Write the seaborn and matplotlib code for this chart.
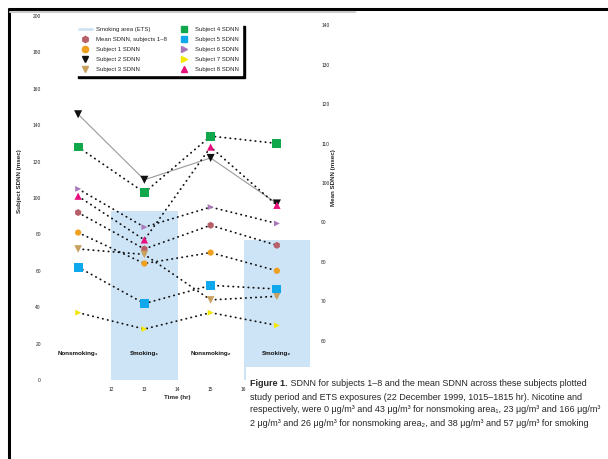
import matplotlib
matplotlib.use("Agg")
import matplotlib.pyplot as plt
from matplotlib.lines import Line2D
from matplotlib.patches import Rectangle
import pandas as pd
import seaborn as sns

# Study periods: midpoint hour, labels, time axis ticks
period_time = [11, 13, 15, 17]
period_labels = ["Nonsmoking\u2081", "Smoking\u2081", "Nonsmoking\u2082", "Smoking\u2082"]
time_ticks = [12, 13, 14, 15, 16]
left_ticks = [0, 20, 40, 60, 80, 100, 120, 140, 160, 180, 200]
right_ticks = [60, 70, 80, 90, 100, 110, 120, 130, 140]

# SDNN (msec) in each period
mean_sdnn = [92, 72, 85, 74]
subject_1 = [81, 64, 70, 60]
subject_2 = [146, 110, 122, 97]
subject_3 = [72, 69, 44, 46]
subject_4 = [128, 103, 134, 130]
subject_5 = [62, 42, 52, 50]
subject_6 = [105, 84, 95, 86]
subject_7 = [37, 28, 37, 30]
subject_8 = [101, 77, 128, 96]

# Smoking-area periods (right axis)
smoking_time = [13, 17]
smoking_level = [93, 85.5]

series_names = ["Mean SDNN, subjects 1\u20138", "Subject 1 SDNN", "Subject 2 SDNN",
                "Subject 3 SDNN", "Subject 4 SDNN", "Subject 5 SDNN", "Subject 6 SDNN",
                "Subject 7 SDNN", "Subject 8 SDNN"]
series_values = [mean_sdnn, subject_1, subject_2, subject_3, subject_4,
                 subject_5, subject_6, subject_7, subject_8]

palette = dict(zip(series_names, ["#b8606a", "#f0a020", "#111111", "#c8a060", "#10a84a",
                                  "#10a8ec", "#a878b8", "#f4e800", "#e8107c"]))
markers = dict(zip(series_names, ["h", "o", "v", "v", "s", "s", ">", ">", "^"]))
sizes = dict(zip(series_names, [26, 20, 34, 30, 40, 40, 18, 18, 28]))

# Connecting lines: dotted black, subject 2 as a thin solid grey line
line_colors = {n: "#111111" for n in series_names}
line_colors["Subject 2 SDNN"] = "#9a9a9a"
line_widths = {n: 1.3 for n in series_names}
line_widths["Subject 2 SDNN"] = 0.8
dashes = {n: (0.2, 2.6) for n in series_names}
dashes["Subject 2 SDNN"] = ""

rows = []
for name, vals in zip(series_names, series_values):
    for t, v in zip(period_time, vals):
        rows.append({"series": name, "time": t, "sdnn": v})
df = pd.DataFrame(rows)

sns.set_style("white")
plt.rcParams["font.family"] = ["Liberation Sans Narrow", "Liberation Sans", "DejaVu Sans"]

fig = plt.figure(figsize=(6.08, 4.59), dpi=100)
W, H = 608.0, 459.0
ax = fig.add_axes([45 / W, 1 - 380 / H, 265 / W, 364 / H])
ax2 = ax.twinx()

# Background and smoking-area bars live on the twin axis, lines on top
ax.set_zorder(ax2.get_zorder() + 1)
ax.patch.set_visible(False)
ax2.set_facecolor("#efefef")
ax2.bar(smoking_time, smoking_level, width=2.0, color="#cde3f6", linewidth=0)
ax2.set_ylim(50, 50 + 364 / 3.94)
ax2.set_yticks(right_ticks)

sns.lineplot(data=df, x="time", y="sdnn", hue="series", style="series", size="series",
             palette=line_colors, sizes=line_widths, dashes=dashes, markers=False,
             dash_capstyle="round", legend=False, estimator=None, sort=False, ax=ax)
sns.scatterplot(data=df, x="time", y="sdnn", hue="series", style="series", size="series",
                palette=palette, markers=markers, sizes=sizes, linewidth=0,
                legend=False, zorder=4, ax=ax)

ax.set_xlim(10, 18)
ax.set_ylim(0, 200)
ax.set_xticks(time_ticks)
ax.set_yticks(left_ticks)
ax.set_xlabel("")
ax.set_ylabel("")
for a in (ax, ax2):
    for s in a.spines.values():
        s.set_visible(False)
    a.tick_params(length=0, labelsize=3.5, colors="#222222")
ax.tick_params(axis="y", pad=3)
ax.tick_params(axis="x", pad=5)
ax2.tick_params(axis="y", pad=8)

for t, lab in zip(period_time, period_labels):
    ax.text(t, 0.074, lab, transform=ax.get_xaxis_transform(), ha="center", va="center",
            fontsize=4.5, fontweight="bold", color="#111111", zorder=5)

fig.text(20 / W, 1 - 181 / H, "Subject SDNN (msec)", rotation=90, ha="center", va="center",
         fontsize=4.5, fontweight="bold")
fig.text(333 / W, 1 - 178 / H, "Mean SDNN (msec)", rotation=90, ha="center", va="center",
         fontsize=4.5, fontweight="bold")
fig.text(177 / W, 1 - 397 / H, "Time (hr)", ha="center", va="center", fontsize=4.5,
         fontweight="bold")

# Legend
handles = [Line2D([], [], color="#cde3f6", lw=2, label="Smoking area (ETS)")]
for n in series_names:
    handles.append(Line2D([], [], ls="none", marker=markers[n], color=palette[n],
                          markersize=4.5, label=n))
leg = ax.legend(handles=handles, ncol=2, loc="upper left",
                bbox_to_anchor=(75 / W, 1 - 23 / H), bbox_transform=fig.transFigure,
                borderaxespad=0, frameon=True, fancybox=False,
                prop={"family": ["Liberation Sans", "DejaVu Sans"], "size": 4.3},
                shadow={"color": "black", "alpha": 1}, edgecolor="white",
                framealpha=1, handlelength=2.2, handletextpad=0.8, columnspacing=1.6,
                labelspacing=0.8, borderpad=0.6)
leg.set_zorder(20)

# Page border lines
fig.add_artist(Line2D([9 / W, 9 / W], [0, 1 - 9 / H], color="black", lw=2.2))
fig.add_artist(Line2D([9 / W, 1], [1 - 9 / H, 1 - 9 / H], color="black", lw=2.2))
fig.add_artist(Line2D([10 / W, 355 / W], [1 - 12 / H, 1 - 12 / H], color="#cccccc", lw=1.5))

# Caption panel
fig.add_artist(Rectangle((246 / W, 0), 1, (459 - 367) / H, transform=fig.transFigure,
                         facecolor="white", edgecolor="none", zorder=10))
caption = [
    ("Figure 1.", " SDNN for subjects 1\u20138 and the mean SDNN across these subjects plotted"),
    ("", "study period and ETS exposures (22 December 1999, 1015\u20131815 hr). Nicotine and"),
    ("", "respectively, were 0 \u03bcg/m\u00b3 and 43 \u03bcg/m\u00b3 for nonsmoking area\u2081, 23 \u03bcg/m\u00b3 and 166 \u03bcg/m\u00b3"),
    ("", "2 \u03bcg/m\u00b3 and 26 \u03bcg/m\u00b3 for nonsmoking area\u2082, and 38 \u03bcg/m\u00b3 and 57 \u03bcg/m\u00b3 for smoking"),
]
cap_size = 6.5
y0 = 384
for i, (bold, rest) in enumerate(caption):
    y = 1 - (y0 + 13 * i) / H
    if bold:
        tb = fig.text(250 / W, y, bold, fontsize=cap_size, fontweight="bold", va="center",
                      zorder=11)
        fig.canvas.draw()
        bb = tb.get_window_extent()
        fig.text(bb.x1 / W, y, rest, fontsize=cap_size, va="center", zorder=11)
    else:
        fig.text(250 / W, y, rest, fontsize=cap_size, va="center", zorder=11)

fig.savefig("out.png", dpi=100, facecolor="white")
